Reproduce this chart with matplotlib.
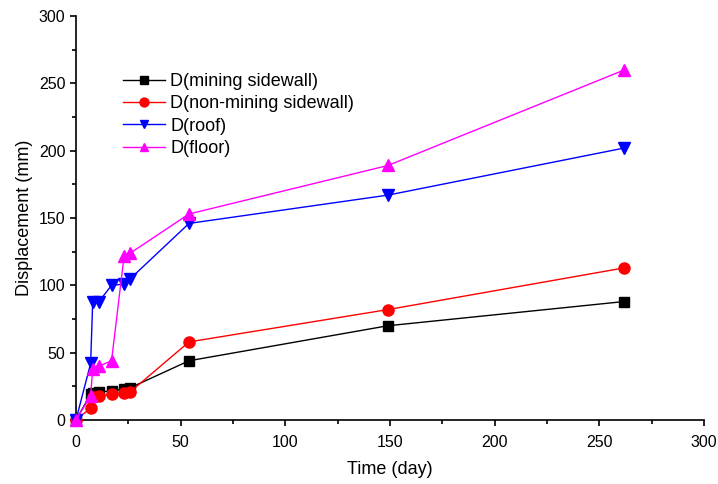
import matplotlib
matplotlib.use('Agg')
import matplotlib.pyplot as plt
from matplotlib.ticker import MultipleLocator

plt.rcParams['font.family'] = ['Liberation Sans', 'DejaVu Sans']

# 数据
days = [0, 7, 8, 11, 17, 23, 26, 54, 149, 262]
d_mining = [0, 19, 20, 21, 21.5, 23, 24, 44, 70, 88]
d_non_mining = [0, 9, 17, 18, 19, 20, 21, 58, 82, 113]
d_roof = [0, 42, 88, 88, 100, 101, 105, 146, 167, 202]
d_floor = [0, 18, 38, 40, 44, 122, 124, 153, 189, 260]

fig = plt.figure(figsize=(7.18, 4.84), dpi=100)
ax = fig.add_axes([0.1058, 0.1322, 0.8747, 0.8347])

kw = dict(lw=1, clip_on=False, zorder=3)
ax.plot(days, d_mining, 's-', color='black', ms=7, label='D(mining sidewall)', **kw)
ax.plot(days, d_non_mining, 'o-', color='red', ms=8, label='D(non-mining sidewall)', **kw)
ax.plot(days, d_roof, 'v-', color='blue', ms=8, label='D(roof)', **kw)
ax.plot(days, d_floor, '^-', color='magenta', ms=8, label='D(floor)', **kw)

ax.set_xlim(0, 300)
ax.set_ylim(0, 300)
ax.xaxis.set_major_locator(MultipleLocator(50))
ax.xaxis.set_minor_locator(MultipleLocator(25))
ax.yaxis.set_major_locator(MultipleLocator(50))
ax.yaxis.set_minor_locator(MultipleLocator(25))
ax.spines['top'].set_visible(False)
ax.spines['right'].set_visible(False)
ax.spines['left'].set_linewidth(1.2)
ax.spines['bottom'].set_linewidth(1.2)
ax.tick_params(which='major', direction='out', length=4, width=1.2, labelsize=11.5)
ax.tick_params(axis='x', which='major', pad=7)
ax.tick_params(which='minor', direction='out', length=3, width=1.2)

ax.set_xlabel('Time (day)', fontsize=13, labelpad=8)
ax.set_ylabel('Displacement (mm)', fontsize=13)

ax.legend(loc='upper left', bbox_to_anchor=(0.064, 0.877), frameon=False, fontsize=13,
          handlelength=2.3, labelspacing=0.3, handletextpad=0.3, borderaxespad=0,
          markerscale=0.8)

plt.savefig('out.png', dpi=100)
plt.close()
